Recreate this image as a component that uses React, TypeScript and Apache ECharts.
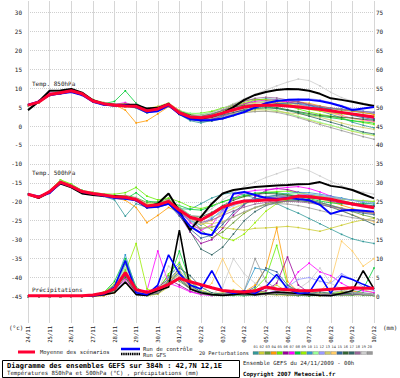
import React, { useEffect, useRef } from "react";
import * as echarts from "echarts";

const STEP_H = 12;
const DATES = ["24/11","25/11","26/11","27/11","28/11","29/11","30/11","01/12","02/12","03/12","04/12","05/12","06/12","07/12","08/12","09/12","10/12"];
const T_TICKS = [-45,-40,-35,-30,-25,-20,-15,-10,-5,0,5,10,15,20,25,30];
const P_TICKS = [0,5,10,15,20,25,30,35,40,45,50,55,60,65,70,75];
const MEMBER_IDS = ["01","02","03","04","05","06","07","08","09","10","11","12","13","14","15","16","17","18","19","20"];

// 850 hPa
const T850_MEAN = [5.5,6.3,8.3,8.8,9.3,8.5,6.6,5.9,5.5,5.3,5.2,4.0,4.5,5.7,3.5,2.4,2.2,2.6,3.4,4.3,5.0,5.4,5.5,5.5,5.3,5.0,4.7,4.4,4.0,3.6,3.2,2.8,2.4];
const T850_GFS = [4.2,6.5,9.3,9.4,9.8,8.8,6.8,5.8,5.6,5.6,5.6,4.6,4.8,5.8,3.2,2.3,2.0,2.5,3.4,5.0,6.9,8.2,9.0,9.5,9.8,9.7,9.3,8.5,7.3,6.9,6.4,5.8,5.3];
const T850_CTRL = [5.6,6.4,8.2,8.6,9.0,8.2,6.4,5.6,5.4,5.5,5.0,3.6,3.9,5.4,3.2,1.8,1.5,1.6,2.0,2.8,3.7,4.9,6.0,6.6,6.9,7.0,6.9,6.6,6.0,5.2,4.2,4.6,5.0];
const T850_MEMBERS = [
  [5.5,6.6,8.1,8.9,9.0,8.2,6.3,5.6,5.2,5.6,4.7,3.4,4.1,5.9,3.0,1.4,0.8,1.5,2.8,4.4,5.8,6.8,7.2,7.0,6.4,5.6,4.9,4.0,3.1,2.2,1.0,0.2,-0.5],
  [5.6,6.2,8.5,8.7,9.4,8.6,6.8,6.0,5.8,5.0,5.6,4.6,5.2,6.1,4.2,3.0,2.4,2.0,2.2,3.0,3.8,4.3,4.5,4.1,3.4,2.5,1.6,0.8,0.2,-0.6,-1.4,-2.0,-2.5],
  [5.4,6.4,8.2,8.6,9.1,8.4,6.4,5.7,5.4,5.8,5.0,3.8,4.0,5.2,3.8,2.8,2.9,3.6,4.6,5.8,6.7,7.1,6.8,6.2,5.6,5.2,4.9,4.8,4.6,4.2,3.9,3.5,3.2],
  [5.6,6.1,8.4,9.0,9.2,8.3,6.7,5.8,5.6,4.2,0.8,1.4,3.2,5.1,3.4,2.0,1.7,2.4,3.3,4.0,4.6,5.2,5.7,5.9,6.1,6.4,6.0,5.3,4.7,4.4,4.0,3.6,3.0],
  [5.5,6.5,8.6,9.1,9.6,8.8,7.0,6.2,5.5,5.9,5.4,4.1,4.3,5.5,3.9,3.2,3.4,3.9,4.8,5.4,5.9,6.3,6.4,6.0,5.4,4.5,3.7,3.1,2.6,2.0,1.4,0.9,0.4],
  [5.5,6.3,8.0,8.5,9.0,8.1,6.5,5.8,5.3,5.1,5.4,4.4,4.8,5.8,3.2,1.9,1.4,1.8,2.6,3.5,4.4,5.3,6.0,6.3,6.6,6.4,5.6,4.5,3.8,3.4,2.9,2.5,2.0],
  [5.6,6.7,8.7,9.0,9.5,8.7,6.9,6.0,5.7,6.2,5.1,4.2,4.6,5.6,3.6,2.1,1.6,2.3,3.5,4.8,5.9,6.5,6.9,6.8,6.4,5.7,5.0,4.3,3.6,2.8,2.0,1.6,1.2],
  [5.5,6.2,8.3,8.8,9.2,8.4,6.6,5.9,6.5,9.3,6.0,4.3,4.8,5.9,3.7,2.7,2.6,3.1,3.8,4.4,4.9,5.1,5.0,4.7,4.2,3.6,3.0,2.6,2.2,1.8,1.4,1.1,0.8],
  [5.4,6.4,8.2,8.7,9.3,8.5,6.5,5.9,5.2,5.5,5.2,3.9,4.4,5.3,3.3,2.2,2.0,2.8,4.0,5.2,6.2,6.9,7.0,6.6,5.9,5.1,4.4,3.9,3.5,3.2,2.9,2.7,2.5],
  [5.6,6.3,8.4,8.9,9.2,8.5,6.7,6.0,5.4,5.2,5.3,4.3,4.7,5.8,3.6,2.0,1.5,1.6,2.2,3.1,4.1,4.9,5.5,5.8,6.0,5.8,5.3,4.8,4.6,4.5,4.2,3.9,3.6],
  [5.5,6.0,8.1,8.6,9.1,8.3,6.4,5.7,5.3,5.6,5.0,3.5,4.0,5.4,4.0,3.4,3.3,3.5,3.9,4.3,4.5,4.6,4.5,4.0,3.3,2.5,1.8,1.0,0.2,-0.6,-1.2,-1.9,-2.3],
  [5.6,6.5,8.4,8.9,9.4,8.6,6.8,5.9,5.6,5.4,5.7,4.6,4.8,5.9,3.8,2.6,2.3,2.8,3.7,4.6,5.4,6.0,6.4,6.6,6.8,7.0,7.2,6.9,6.2,5.4,4.6,3.9,3.4],
  [5.5,6.2,8.2,8.7,9.0,8.2,6.3,5.6,5.4,5.0,4.8,3.7,4.2,5.6,3.4,2.5,2.4,2.9,3.2,3.4,3.6,3.9,4.0,3.8,3.5,3.2,2.8,2.3,1.6,0.8,0.1,-0.4,-0.9],
  [5.6,6.6,8.5,9.0,9.4,8.5,6.6,5.8,5.7,5.9,5.3,4.1,4.5,5.7,3.6,2.4,2.3,2.9,3.8,4.9,5.6,6.0,6.2,6.3,6.1,5.6,4.9,4.1,3.4,2.7,2.0,1.4,1.0],
  [5.5,6.3,8.3,8.8,9.3,8.4,6.5,5.9,5.5,5.2,4.9,3.6,4.1,5.4,3.1,1.7,1.2,1.3,1.9,2.7,3.7,4.7,5.4,5.9,6.1,6.0,5.6,5.0,4.3,3.6,2.8,2.2,1.7],
  [5.4,6.2,8.1,8.6,9.1,8.3,6.6,5.9,5.4,5.5,5.1,4.0,4.6,5.9,3.9,2.9,2.7,3.2,4.1,5.0,5.5,5.6,5.3,4.9,4.3,3.8,3.3,2.8,2.5,2.3,2.1,1.8,1.5],
  [5.5,6.4,8.3,8.9,9.3,8.6,6.7,6.0,5.6,5.3,5.6,4.5,4.7,5.5,3.3,2.1,1.8,2.2,2.9,3.6,4.2,4.6,4.8,4.6,4.1,3.4,2.6,1.8,1.0,0.2,-0.8,-1.6,-2.1],
  [5.6,6.5,8.4,8.8,9.2,8.4,6.5,5.8,5.3,5.7,5.4,4.2,4.4,5.6,3.7,2.6,2.5,3.1,4.2,5.5,6.5,7.3,7.6,7.4,6.9,6.3,5.7,5.2,4.8,4.4,4.1,3.8,3.6],
  [5.5,6.3,8.2,8.7,9.2,8.5,6.6,5.9,5.5,5.4,5.1,3.9,4.3,5.7,3.5,2.6,2.8,3.5,4.6,5.9,7.2,8.4,9.5,10.6,11.6,12.4,12.0,10.6,8.9,7.5,6.6,6.0,5.5],
  [5.5,6.4,8.3,8.8,9.3,8.5,6.7,5.9,5.6,5.5,5.3,4.1,4.6,5.8,3.6,2.3,1.9,2.1,2.6,3.1,3.5,3.8,3.9,3.6,3.0,2.2,1.3,0.4,-0.4,-1.2,-2.0,-2.8,-3.5],
];

// 500 hPa
const T500_MEAN = [-18,-18.8,-17.3,-14.8,-15.9,-17.3,-17.8,-18.2,-18.7,-18.8,-19.4,-21.1,-20.8,-19.9,-22.2,-24.1,-24.8,-23.2,-21.4,-20.4,-19.8,-19.7,-19.5,-19.5,-19.1,-18.5,-18.7,-19.0,-19.3,-20.0,-20.6,-21.1,-21.6];
const T500_GFS = [-18,-19,-17.5,-15.2,-16.2,-17.8,-18.2,-18.5,-18.5,-18.8,-19.5,-21.3,-20.5,-17.8,-22.5,-27.5,-24.0,-20.5,-17.8,-16.9,-16.5,-16.1,-15.9,-15.7,-15.6,-15.4,-15.3,-14.8,-15.8,-16.2,-16.9,-18.0,-19.1];
const T500_CTRL = [-18,-18.6,-17.7,-15.0,-15.9,-17.4,-17.9,-18.4,-19.0,-19.2,-19.6,-21.5,-21.3,-20.5,-23.0,-26.5,-28.3,-28.8,-24.0,-17.9,-17.4,-18.2,-19.0,-19.2,-19.0,-19.3,-19.6,-20.8,-23.2,-22.3,-22.2,-22.4,-22.6];
const T500_MEMBERS = [
  [-18,-18.9,-17.3,-14.4,-15.5,-17.0,-17.9,-18.6,-19.5,-23.8,-20.5,-21.5,-21.0,-20.4,-21.8,-22.0,-20.5,-19.0,-18.0,-17.6,-18.2,-19.0,-19.6,-20.5,-21.8,-23.0,-24.4,-25.8,-27.2,-28.6,-29.8,-30.5,-31.0],
  [-18,-18.7,-17.2,-14.6,-15.7,-17.2,-17.6,-18.0,-18.4,-18.5,-19.0,-20.6,-20.3,-19.5,-23.0,-26.5,-27.0,-26.5,-26.8,-27.2,-27.5,-27.0,-26.9,-26.7,-26.5,-26.8,-27.3,-27.8,-27.0,-26.2,-25.4,-24.8,-24.4],
  [-18,-18.8,-17.4,-14.9,-15.8,-17.4,-17.7,-18.1,-18.5,-18.3,-18.9,-20.2,-20.0,-19.2,-21.5,-24.0,-27.5,-29.5,-28.0,-25.5,-23.0,-21.5,-20.6,-20.0,-19.6,-19.4,-19.6,-20.2,-20.9,-21.7,-22.6,-23.5,-24.2],
  [-18,-18.6,-17.6,-15.1,-16.0,-17.5,-18.0,-18.4,-19.0,-19.6,-21.5,-25.5,-23.6,-21.5,-22.8,-24.6,-25.0,-23.5,-21.8,-20.8,-20.2,-19.8,-19.3,-18.8,-18.4,-18.3,-18.7,-19.3,-20.0,-20.9,-21.8,-22.5,-23.0],
  [-18,-18.7,-17.1,-14.2,-15.3,-17.0,-17.5,-17.9,-18.0,-17.6,-16.2,-18.5,-19.5,-19.0,-20.0,-21.3,-21.8,-21.0,-20.0,-19.2,-18.6,-18.0,-17.5,-17.3,-17.2,-17.6,-18.1,-18.6,-19.0,-19.3,-19.6,-19.8,-20.0],
  [-18,-18.9,-17.5,-15.0,-16.0,-17.4,-17.8,-18.3,-18.8,-19.0,-19.8,-21.6,-21.2,-20.2,-23.5,-28.0,-31.0,-30.0,-27.0,-23.5,-20.8,-18.7,-17.0,-16.5,-16.8,-17.5,-18.2,-19.0,-19.8,-20.4,-20.8,-21.0,-21.2],
  [-18,-18.8,-17.3,-14.6,-15.7,-17.1,-17.7,-18.2,-18.6,-18.6,-19.1,-20.9,-20.6,-19.6,-22.4,-25.5,-27.6,-26.0,-22.5,-19.0,-17.5,-17.0,-16.8,-16.5,-16.2,-16.0,-16.5,-17.4,-18.5,-19.6,-20.4,-21.0,-21.5],
  [-18,-18.8,-17.4,-14.7,-15.8,-17.3,-17.8,-18.1,-18.6,-19.3,-17.6,-19.8,-20.2,-19.8,-21.0,-22.0,-22.2,-21.2,-20.0,-19.0,-18.3,-17.7,-17.5,-17.6,-18.0,-18.5,-19.2,-19.8,-20.3,-20.5,-20.6,-20.5,-20.3],
  [-18,-18.6,-17.2,-14.3,-15.5,-17.1,-17.7,-18.2,-18.7,-19.0,-19.5,-21.3,-21.0,-20.0,-22.0,-24.0,-25.5,-27.5,-29.5,-30.2,-28.5,-25.5,-22.5,-20.5,-19.5,-19.0,-18.6,-18.5,-18.8,-19.2,-19.5,-19.7,-19.9],
  [-18,-18.8,-17.5,-14.9,-15.9,-17.3,-17.8,-18.3,-18.8,-18.9,-19.6,-21.2,-21.0,-20.2,-22.6,-25.0,-26.2,-24.5,-22.0,-20.5,-19.6,-19.2,-18.8,-18.2,-17.8,-17.5,-17.6,-18.0,-18.5,-19.0,-19.6,-20.2,-20.7],
  [-18,-18.7,-17.3,-14.5,-15.6,-17.2,-17.6,-18.0,-18.5,-18.7,-19.2,-20.8,-20.5,-19.7,-21.2,-23.5,-24.5,-24.0,-23.0,-21.8,-20.6,-19.7,-19.0,-18.4,-18.0,-17.8,-17.9,-18.3,-18.9,-19.6,-20.3,-21.0,-21.7],
  [-18,-18.9,-17.6,-15.1,-16.1,-17.5,-17.9,-18.4,-18.9,-19.1,-19.6,-21.4,-21.1,-20.1,-22.3,-24.8,-25.8,-24.2,-22.5,-21.0,-20.0,-19.4,-19.0,-18.7,-18.5,-18.2,-18.0,-18.3,-18.8,-19.2,-19.6,-19.9,-20.2],
  [-18,-18.8,-17.4,-14.8,-15.9,-17.3,-17.8,-18.2,-18.7,-18.8,-19.3,-21.0,-20.7,-19.8,-21.9,-24.2,-25.6,-25.8,-25.2,-24.0,-22.8,-21.6,-20.8,-20.2,-19.9,-19.8,-20.0,-20.4,-21.0,-21.6,-22.2,-22.8,-23.2],
  [-18,-18.7,-17.3,-14.6,-15.8,-17.2,-17.7,-18.1,-18.6,-18.6,-19.2,-20.9,-20.7,-19.9,-22.0,-24.5,-26.0,-25.0,-23.2,-21.6,-20.4,-19.6,-19.2,-19.0,-18.8,-18.9,-19.4,-20.2,-21.2,-22.3,-23.4,-24.5,-25.3],
  [-18,-18.9,-17.5,-15.0,-16.0,-17.4,-17.9,-18.3,-18.9,-19.0,-19.7,-21.6,-21.5,-20.6,-23.8,-27.2,-29.6,-28.8,-26.0,-22.8,-20.6,-19.3,-18.6,-18.4,-18.5,-18.9,-19.5,-20.2,-21.0,-21.8,-22.5,-23.0,-23.4],
  [-18,-18.8,-17.4,-14.7,-15.8,-17.3,-17.7,-18.1,-18.6,-18.8,-19.3,-20.9,-20.6,-19.7,-21.6,-23.6,-24.0,-22.8,-21.0,-19.6,-18.6,-18.0,-17.8,-17.9,-18.2,-18.6,-19.0,-19.3,-19.6,-19.9,-20.3,-20.7,-21.1],
  [-18,-18.7,-17.3,-14.6,-15.7,-17.2,-17.8,-18.3,-18.8,-19.0,-19.5,-21.2,-21.0,-20.0,-23.0,-27.8,-32.5,-34.0,-32.0,-28.5,-25.0,-22.6,-21.0,-20.2,-19.8,-19.7,-20.0,-20.6,-21.4,-22.4,-23.5,-24.7,-26.0],
  [-18,-18.8,-17.4,-14.8,-15.9,-17.3,-17.8,-18.2,-18.7,-18.9,-19.4,-21.1,-20.8,-19.9,-22.1,-24.4,-25.4,-24.8,-23.6,-22.4,-21.4,-20.6,-20.2,-20.0,-19.9,-20.0,-20.3,-20.8,-21.3,-21.8,-22.3,-22.7,-23.0],
  [-18,-18.7,-17.3,-14.6,-15.7,-17.1,-17.6,-18.1,-18.6,-18.7,-19.1,-20.8,-20.6,-19.7,-21.7,-23.6,-23.8,-21.8,-19.5,-17.6,-16.0,-14.8,-13.6,-12.6,-11.6,-11.0,-11.8,-13.2,-14.6,-15.8,-16.8,-17.5,-18.0],
  [-18,-18.8,-17.5,-14.9,-16.0,-17.4,-17.9,-18.3,-18.8,-18.9,-19.5,-21.2,-20.9,-20.0,-22.4,-25.2,-27.0,-26.8,-25.5,-24.0,-22.6,-21.5,-20.8,-20.5,-20.6,-21.0,-21.6,-22.3,-23.0,-23.6,-24.2,-24.6,-25.0],
];

// precipitation (mm)
const PR_MEAN = [0.2,0.2,0.2,0.2,0.2,0.2,0.4,0.9,2.0,6.3,1.8,1.1,2.0,3.2,4.8,3.9,3.1,2.3,1.6,1.3,1.2,1.5,2.5,2.0,1.8,1.6,1.5,1.7,1.9,2.1,2.3,2.2,2.2];
const PR_GFS = [0.1,0.1,0.1,0.1,0.1,0.1,0.2,0.5,1.0,3.8,0.5,0.3,1.5,2.5,17.5,2.0,1.0,0.5,0.3,0.5,0.8,0.5,0.8,1.2,1.0,0.8,0.5,0.3,0.2,0.8,1.5,6.8,2.0];
const PR_CTRL = [0.1,0.1,0.1,0.1,0.1,0.1,0.2,0.6,2.5,9.5,1.0,0.5,3.0,11.0,6.0,3.0,2.0,6.8,1.5,0.8,1.5,0.8,2.5,5.8,2.0,0.8,1.0,5.5,0.8,5.4,4.5,3.2,2.0];
const PR_MEMBERS = [
  [0,0,0,0,0,0,0.1,0.5,2.0,8.5,1.5,0.3,1.0,4.0,6.5,3.0,1.2,0.5,0.3,0.5,0.8,1.0,0.6,0.4,0.8,1.5,0.7,0.4,0.3,0.8,1.6,1.0,0.6],
  [0,0,0,0,0,0,0.2,0.8,3.5,5.0,0.8,0.2,0.6,2.5,8.0,4.5,1.5,0.6,0.4,1.8,1.0,0.5,1.5,3.0,1.2,0.6,0.3,0.2,0.5,1.2,2.5,1.8,1.0],
  [0,0,0,0,0,0,0,0.3,1.5,6.0,2.0,0.5,2.0,5.5,4.0,2.0,0.8,0.4,0.8,0.5,0.3,0.8,2.5,1.5,0.5,0.2,0.5,0.8,0.6,0.3,0.5,0.7,0.4],
  [0,0,0,0,0,0,0,0.2,1.0,4.0,1.2,0.4,0.8,3.0,5.0,2.5,1.0,0.5,0.5,0.8,1.2,3.0,7.5,18.0,4.0,1.2,0.5,0.3,0.6,1.0,1.5,0.8,0.5],
  [0,0,0,0,0,0,0.1,0.6,2.5,7.0,1.0,0.3,1.5,6.0,9.0,3.0,1.0,0.6,0.5,0.4,0.6,2.0,5.0,13.5,3.0,1.0,0.5,0.4,0.3,0.5,0.8,0.6,0.3],
  [0,0,0,0,0,0,0,0.4,2.2,5.5,1.5,0.6,2.5,4.5,3.0,1.4,0.6,0.3,0.4,0.6,0.8,1.0,1.5,3.5,10.4,3.0,1.0,0.5,0.4,0.6,1.0,0.5,0.3],
  [0,0,0,0,0,0,0.1,0.5,1.8,4.5,1.0,1.5,12.0,3.5,2.5,1.2,0.5,0.3,0.5,0.4,0.3,0.5,0.8,1.5,2.5,6.5,8.8,6.5,5.5,3.5,2.0,1.5,1.0],
  [0,0,0,0,0,0,0.2,1.0,4.0,10.0,2.5,0.5,1.0,4.0,12.0,4.0,1.5,0.8,0.5,0.3,0.2,0.4,0.6,0.8,0.5,0.3,0.2,0.3,0.5,0.4,0.3,2.0,7.5],
  [0,0,0,0,0,0,0.3,1.2,3.0,6.5,14.0,2.0,1.0,3.0,5.0,2.0,0.8,0.4,0.3,0.5,1.0,1.5,1.0,0.8,0.6,0.4,0.3,0.5,0.8,1.2,0.8,0.5,0.3],
  [0,0,0,0,0,0,0.1,0.6,2.5,11.0,1.8,0.4,1.2,5.0,8.5,3.0,1.2,0.5,0.4,0.8,1.5,7.5,7.0,5.0,2.5,1.2,0.6,0.4,0.3,0.5,0.8,0.6,0.4],
  [0,0,0,0,0,0,0.2,0.9,3.2,7.5,1.2,0.3,0.8,3.5,6.0,2.5,1.0,0.4,0.3,0.2,0.4,0.6,0.8,0.5,0.4,0.3,0.5,0.8,1.2,0.8,0.5,0.3,0.2],
  [0,0,0,0,0,0,0.1,0.4,1.5,4.0,0.8,0.3,0.9,2.8,4.5,2.0,0.8,0.4,0.6,1.0,0.8,0.6,0.8,1.5,2.5,4.5,5.0,4.0,3.5,6.0,4.5,2.5,1.5],
  [0,0,0,0,0,0,0.1,0.3,1.2,3.5,1.0,0.4,1.2,3.8,7.0,3.5,1.5,0.8,1.0,1.5,1.2,0.8,0.6,0.5,0.4,0.3,0.5,0.8,0.6,0.4,0.3,0.5,0.4],
  [0,0,0,0,0,0,0.2,0.7,2.8,6.0,1.5,0.5,1.5,4.5,5.5,2.5,1.0,3.5,10.0,4.0,1.5,0.8,0.5,0.4,0.3,0.5,0.8,1.5,4.0,14.6,12.0,8.0,10.0],
  [0,0,0,0,0,0,0.1,0.5,2.0,5.5,1.2,0.4,1.0,3.5,6.5,3.0,1.2,0.6,0.4,0.6,1.0,2.5,7.5,6.5,3.0,1.5,0.8,0.5,0.4,0.6,1.0,0.8,0.5],
  [0,0,0,0,0,0,0.1,0.4,1.6,5.0,1.0,0.3,0.8,3.0,4.5,2.0,0.8,0.4,0.5,0.8,0.6,0.4,0.5,0.6,0.4,0.3,0.2,0.4,0.6,0.8,0.6,0.4,0.3],
  [0,0,0,0,0,0,0.2,0.8,3.0,9.0,2.0,0.5,1.2,4.2,7.5,5.5,2.5,1.0,0.6,0.5,0.4,0.6,1.0,0.8,0.6,0.5,0.8,1.2,0.8,0.5,0.4,0.6,0.5],
  [0,0,0,0,0,0,0.1,0.5,2.2,6.0,1.4,0.4,1.0,3.2,5.2,2.2,0.9,0.5,0.4,0.6,0.5,0.4,0.6,0.9,0.7,0.5,0.4,0.6,0.5,0.4,0.6,0.5,0.4],
  [0,0,0,0,0,0,0.2,0.8,2.6,7.5,1.6,0.5,1.4,8.0,5.5,2.5,1.0,0.6,2.5,10.0,6.0,3.5,2.0,1.5,1.2,2.0,4.0,7.5,3.5,2.0,1.0,0.8,0.5],
  [0,0,0,0,0,0,0.1,0.6,2.4,6.2,1.3,0.4,1.1,3.6,6.0,2.6,1.0,0.5,0.4,0.8,1.5,10.0,4.0,2.0,1.0,0.6,0.4,0.6,1.0,1.5,1.0,0.6,0.4],
];

const MEMBER_COLORS = ["#339999","#cccc33","#669933","#ff9900","#66ee00","#990099","#ff00ff","#00cc33","#99ee00","#3399cc","#99ff99","#9999ff","#cccc66","#ffcc66","#336699","#336633","#336666","#996699","#cccccc","#999999"];

const MONO = "'DejaVu Sans Mono', 'Liberation Mono', monospace";

const pts = (arr: number[]) => arr.map((v, i) => [i * STEP_H, v]);

function buildOption() {
  const series: any[] = [];
  const groups: [number[][], number][] = [[T850_MEMBERS, 0], [T500_MEMBERS, 0], [PR_MEMBERS, 1]];
  groups.forEach(([members, axis]) => {
    members.forEach((arr, m) => {
      series.push({
        type: "line",
        yAxisIndex: axis,
        data: pts(arr),
        showSymbol: true,
        symbol: "rect",
        symbolSize: 1.6,
        lineStyle: { width: 0.8, color: MEMBER_COLORS[m] },
        itemStyle: { color: MEMBER_COLORS[m] },
        silent: true,
        z: 2,
      });
    });
  });
  const mains: [number[], number, string, number, number][] = [
    [T850_GFS, 0, "#000000", 2, 3], [T500_GFS, 0, "#000000", 2, 3], [PR_GFS, 1, "#000000", 1.6, 3],
    [T850_CTRL, 0, "#0000ff", 2, 4], [T500_CTRL, 0, "#0000ff", 2, 4], [PR_CTRL, 1, "#0000ff", 1.6, 4],
    [T850_MEAN, 0, "#ff0033", 3, 5], [T500_MEAN, 0, "#ff0033", 3, 5], [PR_MEAN, 1, "#ff0033", 3, 5],
  ];
  mains.forEach(([arr, axis, color, w, z]) => {
    series.push({
      type: "line",
      yAxisIndex: axis,
      data: pts(arr),
      showSymbol: false,
      lineStyle: { width: w, color },
      itemStyle: { color },
      silent: true,
      z,
    });
  });

  const graphic: any[] = [
    { type: "text", left: 32, top: 80, style: { text: "Temp. 850hPa", font: `6px ${MONO}`, fill: "#222" } },
    { type: "text", left: 32, top: 169, style: { text: "Temp. 500hPa", font: `6px ${MONO}`, fill: "#222" } },
    { type: "text", left: 32, top: 286, style: { text: "Précipitations", font: `6px ${MONO}`, fill: "#222" } },
    { type: "text", left: 9, top: 324, style: { text: "(°c)", font: `6px ${MONO}`, fill: "#222" } },
    { type: "text", left: 383, top: 324, style: { text: "(mm)", font: `6px ${MONO}`, fill: "#222" } },
    { type: "line", shape: { x1: 18, y1: 352, x2: 35, y2: 352 }, style: { stroke: "#ff0033", lineWidth: 3 } },
    { type: "text", left: 40, top: 349, style: { text: "Moyenne des scénarios", font: `5.5px ${MONO}`, fill: "#222" } },
    { type: "line", shape: { x1: 121, y1: 349, x2: 140, y2: 349 }, style: { stroke: "#0000ff", lineWidth: 2.5 } },
    { type: "line", shape: { x1: 121, y1: 354, x2: 140, y2: 354 }, style: { stroke: "#000000", lineWidth: 2.5, lineDash: [1.5, 0.7] } },
    { type: "text", left: 143, top: 346, style: { text: "Run de contrôle", font: `5.5px ${MONO}`, fill: "#222" } },
    { type: "text", left: 143, top: 352, style: { text: "Run GFS", font: `5.5px ${MONO}`, fill: "#222" } },
    { type: "text", left: 199, top: 350, style: { text: "20 Perturbations", font: `5.2px ${MONO}`, fill: "#222" } },
    { type: "rect", shape: { x: 2.5, y: 360.5, width: 237, height: 17 }, style: { fill: "#fff", stroke: "#000", lineWidth: 1 } },
    { type: "text", left: 7, top: 362, style: { text: "Diagramme des ensembles GEFS sur 384h : 42,7N 12,1E", font: `bold 7px ${MONO}`, fill: "#000" } },
    { type: "text", left: 7, top: 370, style: { text: "Températures 850hPa et 500hPa (°C) , précipitations (mm)", font: `5.7px ${MONO}`, fill: "#222" } },
    { type: "text", left: 243, top: 360, style: { text: "Ensemble GEFS du 24/11/2009 - 00h", font: `5.6px ${MONO}`, fill: "#222" } },
    { type: "text", left: 243, top: 371, style: { text: "Copyright 2007 Meteociel.fr", font: `bold 5.7px ${MONO}`, fill: "#000" } },
  ];
  MEMBER_IDS.forEach((id, k) => {
    const x = 253 + k * 6.0;
    graphic.push({ type: "rect", shape: { x, y: 351.5, width: 5.5, height: 3 }, style: { fill: MEMBER_COLORS[k], stroke: "#666", lineWidth: 0.3 } });
    graphic.push({ type: "text", x: x + 2.75, y: 346.5, style: { text: id, font: `3.6px ${MONO}`, fill: "#333", align: "center", verticalAlign: "middle" } });
  });

  return {
    animation: false,
    backgroundColor: "#ffffff",
    grid: { left: 28, right: 26, top: 1, bottom: 55, containLabel: false, outerBoundsMode: "none" },
    xAxis: {
      type: "value",
      min: 0,
      max: 384,
      interval: 24,
      axisLine: { show: false },
      axisTick: { show: false },
      splitLine: { show: true, lineStyle: { color: "#d6d6d6", width: 1 } },
      axisLabel: {
        rotate: 90,
        margin: 3,
        fontSize: 5.6,
        fontFamily: MONO,
        color: "#222",
        formatter: (v: number) => DATES[Math.round(v / 24)] ?? "",
      },
    },
    yAxis: [
      {
        type: "value",
        min: -52,
        max: 33,
        axisLine: { show: false },
        axisTick: { show: false, customValues: T_TICKS },
        axisLabel: { customValues: T_TICKS, margin: 6, fontSize: 6, fontFamily: MONO, color: "#222" },
        splitLine: { show: true, lineStyle: { color: "#cfcfcf", width: 1, type: [1, 1] } },
      },
      {
        type: "value",
        min: -7,
        max: 78,
        position: "right",
        axisLine: { show: false },
        axisTick: { show: false, customValues: P_TICKS },
        axisLabel: { customValues: P_TICKS, margin: 2, fontSize: 6, fontFamily: MONO, color: "#222" },
        splitLine: { show: false },
      },
    ],
    series,
    graphic,
  };
}

export default function App() {
  const ref = useRef<HTMLDivElement>(null);
  useEffect(() => {
    if (!ref.current) return;
    const chart = echarts.init(ref.current, null, { renderer: "svg" });
    chart.setOption(buildOption() as any);
    return () => chart.dispose();
  }, []);
  return (
    <div
      ref={ref}
      style={{ position: "fixed", left: 0, top: 0, width: 400, height: 378, background: "#fff" }}
    />
  );
}
